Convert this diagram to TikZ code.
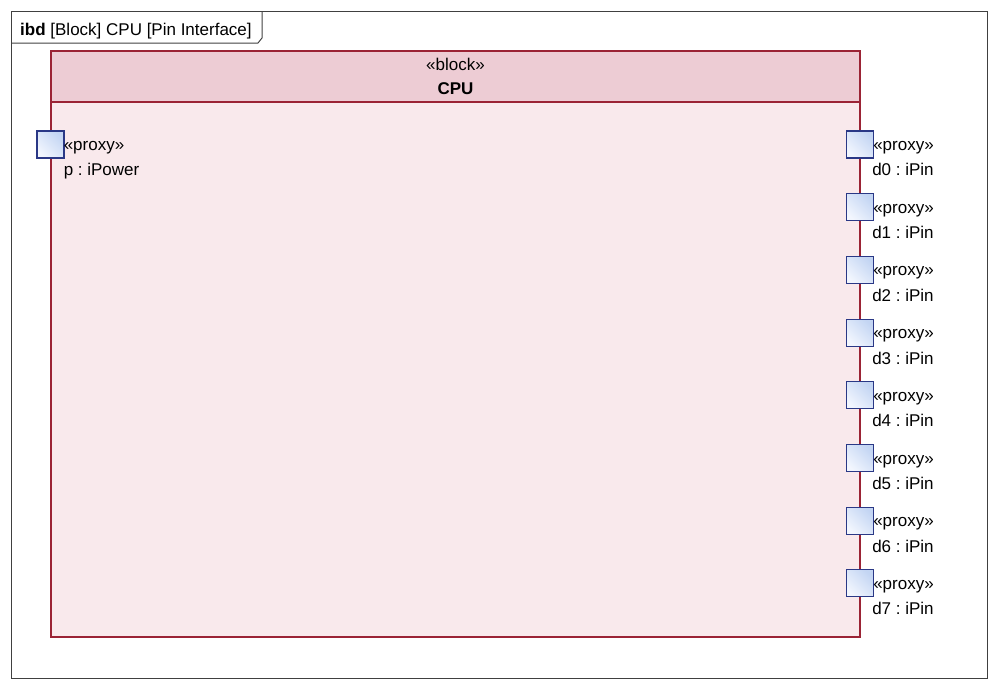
\documentclass[tikz,border=0pt]{standalone}
\usepackage{fontspec}
\setmainfont{Liberation Sans}
\usetikzlibrary{positioning}
\frenchspacing
\definecolor{framegray}{HTML}{404040}
\definecolor{blockred}{HTML}{9B2335}
\definecolor{headpink}{HTML}{EDCCD4}
\definecolor{bodypink}{HTML}{F9E9EC}
\definecolor{portblue}{HTML}{2A3886}
\definecolor{portlight}{HTML}{F2F6FE}
\definecolor{portdark}{HTML}{C3D5F3}
\tikzset{
  port/.style={minimum size=27pt,inner sep=0pt,draw=portblue,line width=1.1pt,
    left color=portlight,right color=portdark,shading angle=135},
  tag/.style={inner sep=0pt,text height=14pt,text depth=2pt,
    font=\fontsize{17}{20}\selectfont},
}
\begin{document}
\begin{tikzpicture}[x=1pt,y=-1pt]
\useasboundingbox (0,0) rectangle (998,689);
% diagram frame
\draw[framegray,line width=1pt] (11,11) rectangle (987,678);
\draw[framegray,line width=1pt] (11,43) -- (258,43) -- (262,38) -- (262,11);
\draw (20,29) node[tag,anchor=west](title) {\textbf{ibd} [Block] CPU [Pin Interface]};
% block
\draw (455.5,344) node[minimum width=809pt,minimum height=586pt,draw=blockred,fill=bodypink,line width=1.1pt](cpu) {};
\draw (455.5,76.5) node[minimum width=809pt,minimum height=51pt,draw=blockred,fill=headpink,line width=1.1pt](cpuhead) {};
\draw (455.5,64) node[tag](stereo) {«block»};
\draw (455.5,88) node[tag](cpuname) {\textbf{CPU}};
% power port
\draw (50.5,144.5) node[port](pw) {};
\node[tag,right=-1pt of pw] (pwst) {«proxy»};
\node[tag,below right=9pt and 0pt of pwst.south west] (pwname) {p : iPower};
% pin ports
\draw (860,144.5) node[port](d0) {};
\draw (860,207.2) node[port](d1) {};
\draw (860,269.9) node[port](d2) {};
\draw (860,332.6) node[port](d3) {};
\draw (860,395.3) node[port](d4) {};
\draw (860,458.0) node[port](d5) {};
\draw (860,520.7) node[port](d6) {};
\draw (860,583.4) node[port](d7) {};
\node[tag,right=-1pt of d0] (d0st) {«proxy»};
\node[tag,below right=9pt and -1pt of d0st.south west] (d0name) {d0 : iPin};
\node[tag,right=-1pt of d1] (d1st) {«proxy»};
\node[tag,below right=9pt and -1pt of d1st.south west] (d1name) {d1 : iPin};
\node[tag,right=-1pt of d2] (d2st) {«proxy»};
\node[tag,below right=9pt and -1pt of d2st.south west] (d2name) {d2 : iPin};
\node[tag,right=-1pt of d3] (d3st) {«proxy»};
\node[tag,below right=9pt and -1pt of d3st.south west] (d3name) {d3 : iPin};
\node[tag,right=-1pt of d4] (d4st) {«proxy»};
\node[tag,below right=9pt and -1pt of d4st.south west] (d4name) {d4 : iPin};
\node[tag,right=-1pt of d5] (d5st) {«proxy»};
\node[tag,below right=9pt and -1pt of d5st.south west] (d5name) {d5 : iPin};
\node[tag,right=-1pt of d6] (d6st) {«proxy»};
\node[tag,below right=9pt and -1pt of d6st.south west] (d6name) {d6 : iPin};
\node[tag,right=-1pt of d7] (d7st) {«proxy»};
\node[tag,below right=9pt and -1pt of d7st.south west] (d7name) {d7 : iPin};
\end{tikzpicture}
\end{document}
